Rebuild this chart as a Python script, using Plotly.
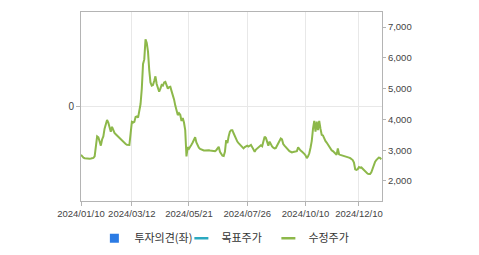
import pandas as pd
import plotly.graph_objects as go

# KRX closing days in range (x categories are trading days)
holidays = ["2024-02-09", "2024-02-12", "2024-03-01", "2024-04-10", "2024-05-01",
            "2024-05-06", "2024-05-15", "2024-06-06", "2024-08-15", "2024-09-16",
            "2024-09-17", "2024-09-18", "2024-10-01", "2024-10-03", "2024-10-09",
            "2024-12-25", "2024-12-31", "2025-01-01"]
days = [d for d in pd.bdate_range("2024-01-10", "2025-01-08") if d.strftime("%Y-%m-%d") not in holidays]
dates = [d.strftime("%Y/%m/%d") for d in days]

# 수정주가 (adjusted price), one value per trading day
prices = [
    2850, 2800, 2760, 2740, 2730, 2720, 2720, 2725, 2730, 2740,  # 0-9
    2750, 2800, 3100, 3450, 3420, 3250, 3150, 3350, 3450, 3700,  # 10-19
    3850, 3980, 3900, 3750, 3600, 3760, 3650, 3560, 3520, 3480,  # 20-29
    3440, 3400, 3350, 3300, 3260, 3230, 3200, 3180, 3170, 3170,  # 30-39
    3550, 3920, 3900, 3920, 4080, 4100, 4060, 4250, 4500, 5000,  # 40-49
    5800, 5950, 6600, 6480, 6200, 5600, 5200, 5100, 5120, 5250,  # 50-59
    5400, 5150, 5000, 4900, 5000, 5120, 5100, 5200, 5220, 5080,  # 60-69
    5000, 5050, 5060, 4920, 4800, 4650, 4450, 4250, 4140, 4200,  # 70-79
    4150, 3950, 4050, 3900, 3650, 2800, 3100, 3050, 3100, 3180,  # 80-89
    3250, 3350, 3420, 3250, 3150, 3080, 3040, 3020, 3000, 2990,  # 90-99
    2990, 3000, 3010, 3000, 2990, 2985, 2980, 2975, 2970, 3000,  # 100-109
    3050, 3110, 2950, 2880, 2820, 2810, 2950, 3330, 3230, 3450,  # 110-119
    3600, 3650, 3650, 3550, 3440, 3330, 3280, 3230, 3180, 3150,  # 120-129
    3100, 3060, 3100, 3140, 3150, 3120, 3140, 3170, 3100, 3030,  # 130-139
    2950, 3020, 3060, 3080, 3150, 3160, 3130, 3300, 3440, 3400,  # 140-149
    3250, 3150, 3280, 3170, 3120, 3080, 3060, 3070, 3150, 3180,  # 150-159
    3300, 3380, 3350, 3200, 3150, 3100, 3060, 3000, 2970, 2950,  # 160-169
    2930, 2940, 2950, 2960, 2970, 3090, 3030, 2990, 2960, 2930,  # 170-179
    2880, 2830, 2740, 2800, 2900, 3080, 3300, 3700, 3950, 3600,  # 180-189
    3930, 3650, 3950, 3700, 3500, 3480, 3350, 3300, 3250, 3180,  # 190-199
    3100, 3050, 3000, 2970, 2920, 2880, 2850, 3060, 2870, 2850,  # 200-209
    2840, 2830, 2820, 2800, 2790, 2770, 2760, 2740, 2720, 2680,  # 210-219
    2600, 2380, 2360, 2380, 2450, 2430, 2440, 2400, 2350, 2300,  # 220-229
    2260, 2240, 2230, 2230, 2280, 2400, 2530, 2620, 2680, 2720,  # 230-239
    2760, 2750, 2700,                                            # 240-242
]

tick_labels = ["2024/01/10", "2024/03/12", "2024/05/21", "2024/07/26", "2024/10/10", "2024/12/10"]
price_ticks = [2000, 3000, 4000, 5000, 6000, 7000]

BLUE = "#2b7be4"
CYAN = "#2aa9c0"
GREEN = "#8db84a"
AXIS = "#b4b4b4"
GRID = "#e8e8e8"
TXT = "#444444"
FONT = "Liberation Sans, Arial, sans-serif"

fig = go.Figure()
fig.add_trace(go.Scatter(x=[dates[0]], y=[None], name="투자의견(좌)", mode="markers",
                         marker=dict(symbol="square", size=9, color=BLUE), yaxis="y"))
fig.add_trace(go.Scatter(x=[dates[0]], y=[None], name="목표주가", mode="markers",
                         marker=dict(symbol="line-ew", size=10, line=dict(color=CYAN, width=2.5)),
                         yaxis="y2"))
fig.add_trace(go.Scatter(x=dates[:len(prices)], y=prices, name="수정주가", mode="lines",
                         line=dict(color=GREEN, width=2), yaxis="y2", showlegend=False))
fig.add_trace(go.Scatter(x=[dates[0]], y=[None], name="수정주가", mode="markers",
                         marker=dict(symbol="line-ew", size=10, line=dict(color=GREEN, width=2.5)),
                         yaxis="y2"))

fig.update_layout(
    width=479, height=255,
    margin=dict(l=81, r=97, t=12, b=54, autoexpand=False),
    paper_bgcolor="white", plot_bgcolor="white",
    font=dict(family=FONT, size=10, color=TXT),
    xaxis=dict(type="category", categoryorder="array", categoryarray=dates,
               range=[0, 242.6], tickvals=tick_labels, ticktext=tick_labels,
               showgrid=True, gridcolor=GRID, gridwidth=1,
               showline=True, linecolor=AXIS, linewidth=1, mirror=True,
               ticks="outside", ticklen=4, tickcolor=AXIS,
               tickfont=dict(size=9.5, color=TXT), tickangle=0, zeroline=False,
               automargin=False),
    yaxis=dict(range=[-1, 1], tickvals=[0], ticktext=["0"],
               showgrid=True, gridcolor=GRID, zeroline=False,
               showline=True, linecolor=AXIS, linewidth=1, mirror=True,
               ticks="outside", ticklen=4, tickcolor=AXIS,
               tickfont=dict(size=10, color=TXT), automargin=False),
    yaxis2=dict(overlaying="y", side="right", range=[1350, 7490],
                tickvals=price_ticks, tickformat=",d",
                showgrid=False, zeroline=False,
                showline=True, linecolor=AXIS, linewidth=1,
                ticks="outside", ticklen=3, tickcolor=AXIS,
                tickfont=dict(size=9.5, color=TXT), automargin=False),
    legend=dict(orientation="h", x=0.478, xanchor="center", y=-0.12, yanchor="top",
                font=dict(family="Noto Sans CJK KR", size=11, color="#333333"),
                entrywidth=42, itemwidth=30, traceorder="normal"),
    showlegend=True,
)

fig.write_html("out.html")
